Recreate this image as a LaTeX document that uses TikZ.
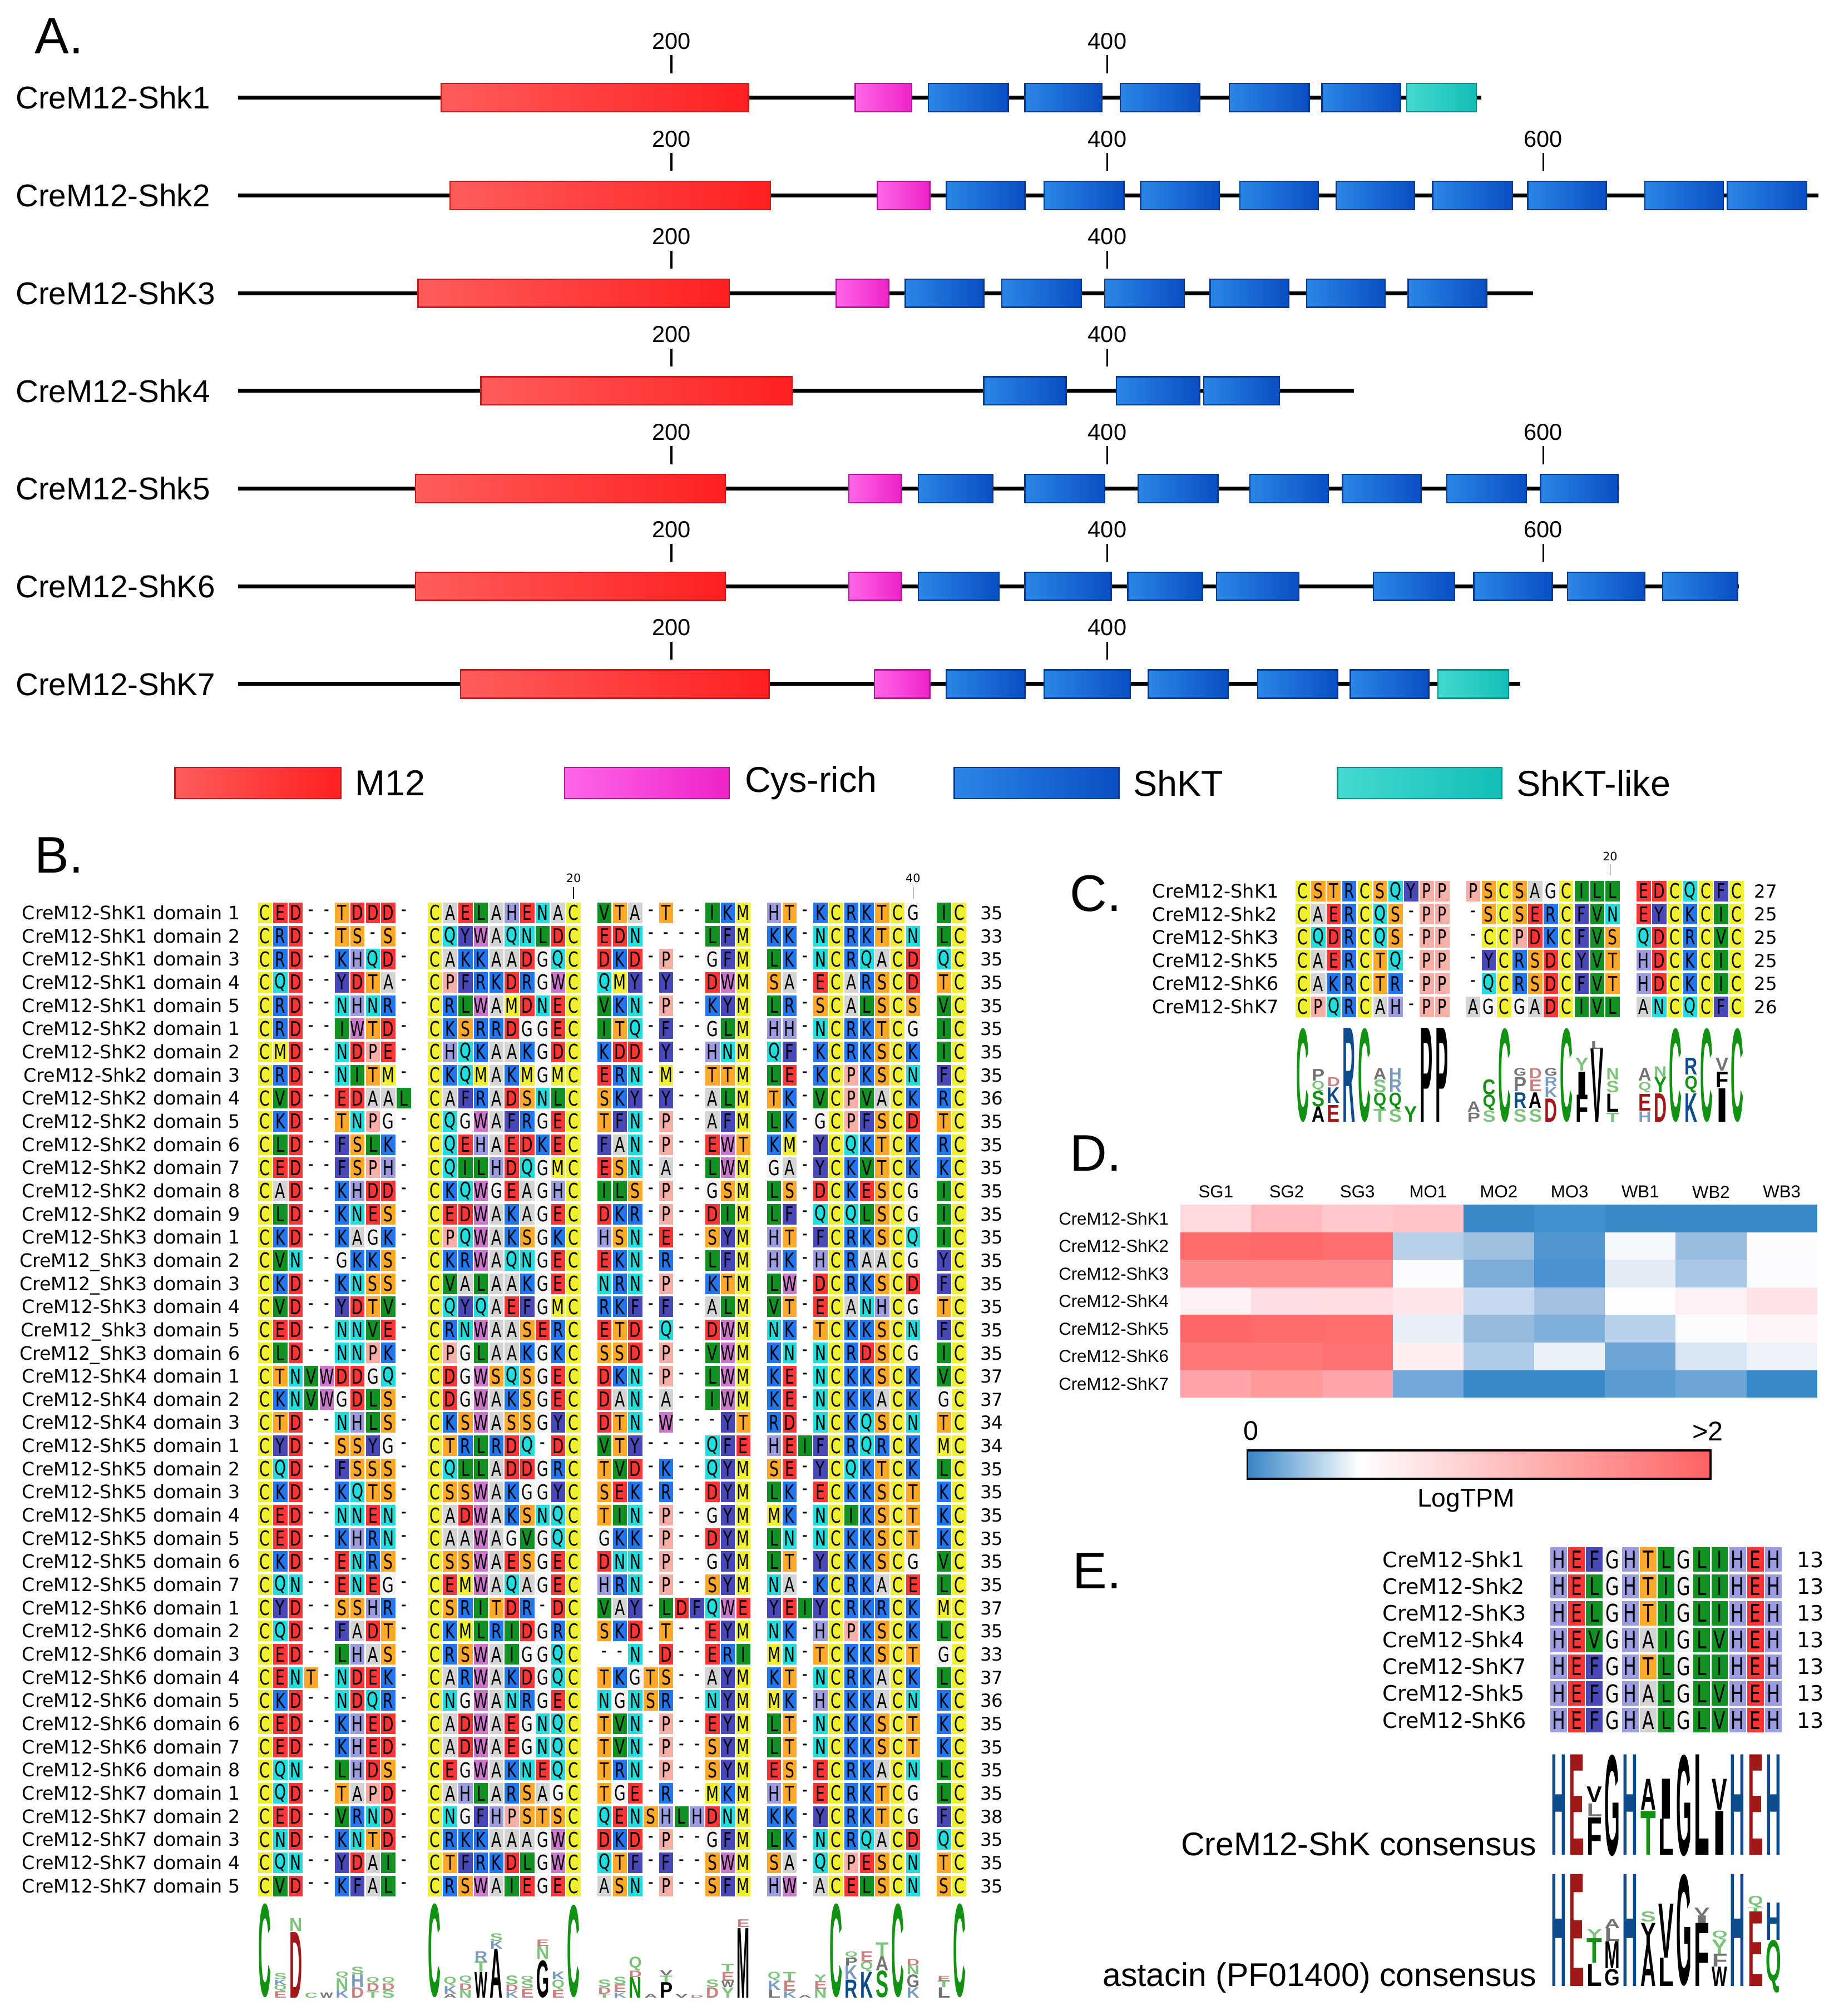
\documentclass[tikz,border=0pt]{standalone}
\usepackage{fontspec}
\usepackage{graphicx}
\setmainfont{DejaVu Sans}
\newfontfamily\arialfont{Liberation Sans}
\newfontfamily\resfont[FakeStretch=0.72]{DejaVu Sans}
\newfontfamily\logofont{Liberation Sans}

\definecolor{resC}{HTML}{F0F030}\colorlet{resM}{resC}
\definecolor{resD}{HTML}{FF3535}\colorlet{resE}{resD}
\definecolor{resK}{HTML}{2277EE}\colorlet{resR}{resK}
\definecolor{resN}{HTML}{22DDDD}\colorlet{resQ}{resN}
\definecolor{resS}{HTML}{FFA82A}\colorlet{resT}{resS}
\definecolor{resA}{HTML}{D4D4D4}
\definecolor{resG}{HTML}{F3F3F3}
\definecolor{resH}{HTML}{9C9CE0}
\definecolor{resF}{HTML}{4848B8}\colorlet{resY}{resF}
\definecolor{resW}{HTML}{CC77CC}
\definecolor{resI}{HTML}{129222}\colorlet{resL}{resI}\colorlet{resV}{resI}
\definecolor{resP}{HTML}{F6AEA6}

\definecolor{m12L}{HTML}{FF5C5C}\definecolor{m12R}{HTML}{FF2020}\definecolor{m12E}{HTML}{C81A1A}
\definecolor{cysL}{HTML}{FF66E8}\definecolor{cysR}{HTML}{EE22C8}\definecolor{cysE}{HTML}{B0189A}
\definecolor{shktL}{HTML}{2A86E6}\definecolor{shktR}{HTML}{0A4EC4}\definecolor{shktE}{HTML}{0A3A8E}
\definecolor{likeL}{HTML}{44DAD2}\definecolor{likeR}{HTML}{12BEB6}\definecolor{likeE}{HTML}{0C8E86}
\definecolor{lgG}{HTML}{129212}\definecolor{lgR}{HTML}{A01818}
\definecolor{lgB}{HTML}{0E4C8E}\definecolor{lgK}{HTML}{000000}
\definecolor{hmblue}{HTML}{3585C6}\definecolor{hmred}{HTML}{FF6262}

\tikzset{
  backbone/.style={line width=3pt},
  dombox/.style={line width=1pt},
  m12/.style={dombox, draw=m12E, left color=m12L, right color=m12R},
  cys/.style={dombox, draw=cysE, left color=cysL, right color=cysR},
  shkt/.style={dombox, draw=shktE, left color=shktL, right color=shktR},
  shktlike/.style={dombox, draw=likeE, left color=likeL, right color=likeR},
  panel/.style={font=\arialfont\fontsize{40}{40}\selectfont, anchor=west, inner sep=0pt},
  protname/.style={font=\arialfont\fontsize{24.5}{26}\selectfont, anchor=west, inner sep=0pt},
  ticklbl/.style={font=\arialfont\fontsize{18}{18}\selectfont, inner sep=0pt},
  legtxt/.style={font=\arialfont\fontsize{28}{28}\selectfont, anchor=west, inner sep=0pt},
  seqname/.style={font=\fontsize{14.4}{15}\selectfont, anchor=base east, inner sep=0pt},
  cname/.style={font=\fontsize{14.5}{15}\selectfont, anchor=base west, inner sep=0pt},
  ename/.style={font=\fontsize{16.5}{17}\selectfont, anchor=base west, inner sep=0pt},
  seqtxt/.style={font=\seqfont, inner sep=0pt},
  seqlen/.style={font=\fontsize{14}{14}\selectfont, anchor=base west, inner sep=0pt},
  rulerlbl/.style={font=\fontsize{9}{9}\selectfont, inner sep=0pt},
  hmlbl/.style={font=\arialfont\fontsize{13.5}{14}\selectfont, inner sep=0pt},
  cbarlbl/.style={font=\arialfont\fontsize{21}{21}\selectfont, inner sep=0pt},
  conslbl/.style={font=\arialfont\fontsize{25.5}{26}\selectfont, anchor=base east, inner sep=0pt},
  logoltr/.style={inner sep=0pt, anchor=south},
}

\newcommand\seqfont{\resfont\fontsize{16}{16}\selectfont}
\makeatletter
\newcount\seqcol
\def\seqpitch{12}\def\seqblock{10}\def\seqhh{8}\def\seqtag{s}
\newcommand\seqrow[3]{%
  \global\seqcol=0\relax
  \def\seq@x{#1}\def\seq@y{#2}%
  \edef\seq@str{#3}%
  \expandafter\seq@next\seq@str\relax}
\def\seq@next#1{%
  \ifx#1\relax\else
    \seq@cell#1%
    \global\advance\seqcol by 1\relax
    \expandafter\seq@next
  \fi}
\def\seq@cell#1{%
  \pgfmathsetmacro\seq@cx{\seq@x+\seqpitch*(\the\seqcol+floor(\the\seqcol/\seqblock))}%
  \ifx#1-%
  \else
    \fill[res#1] (\seq@cx+0.5,\seq@y-\seqhh) rectangle (\seq@cx+\seqpitch-0.5,\seq@y+\seqhh);%
  \fi
  \node[seqtxt] (\seqtag-\the\seqcol) at (\seq@cx+\seqpitch/2,\seq@y) {#1};}
\makeatother
\newcommand\logoletter[5]{% x, bottom, height, width, colour+letter
  \pgfmathparse{#3<12?0.55:1}\let\lop\pgfmathresult
  \node[logoltr, text=lg#5, text opacity=\lop] at (#1,#2) {\resizebox*{#4}{#3pt}{\logofont\bfseries\lt}};}

\begin{document}
\begin{tikzpicture}[x=1pt,y=-1pt]
\useasboundingbox (0,0) rectangle (1430,1568);
\fill[white] (0,0) rectangle (1430,1568);

% A: domain architecture
\node[panel] (pA) at (27,28) {A.};
\foreach \id/\yy/\nm/\stop/\ticks in {a1/76/CreM12-Shk1/1152/{200,400}, a2/152/CreM12-Shk2/1414/{200,400,600},
  a3/228/CreM12-ShK3/1192/{200,400}, a4/304/CreM12-Shk4/1053/{200,400}, a5/380/CreM12-Shk5/1259/{200,400,600},
  a6/456/CreM12-ShK6/1352/{200,400,600}, a7/532/CreM12-ShK7/1182/{200,400}}{
  \node[protname] (\id) at (12,\yy) {\nm};
  \draw[backbone] (185,\yy) -- (\stop,\yy);
  \foreach \p in \ticks {
    \draw[line width=1.5pt] ({183+1.695*\p},\yy-33) -- ({183+1.695*\p},\yy-19);
    \node[ticklbl] (\id t\p) at ({183+1.695*\p},\yy-44) {\p};
  }
}
\draw[m12] (343,65) rectangle (582,87);
\draw[cys] (665,65) rectangle (709,87);
\foreach \a/\b in {722/784,797/857,871/933,956/1018,1028/1089} \draw[shkt] (\a,65) rectangle (\b,87);
\draw[shktlike] (1094,65) rectangle (1148,87);
\draw[m12] (350,141) rectangle (599,163);
\draw[cys] (682,141) rectangle (723,163);
\foreach \a/\b in {736/797,812/874,887/948,964/1025,1039/1100,1114/1176,1188/1249,1279/1340,1343/1405} \draw[shkt] (\a,141) rectangle (\b,163);
\draw[m12] (325,217) rectangle (567,239);
\draw[cys] (650,217) rectangle (691,239);
\foreach \a/\b in {704/765,779/841,859/921,941/1002,1016/1077,1095/1156} \draw[shkt] (\a,217) rectangle (\b,239);
\draw[m12] (374,293) rectangle (616,315);
\foreach \a/\b in {765/829,868/933,936/995} \draw[shkt] (\a,293) rectangle (\b,315);
\draw[m12] (323,369) rectangle (564,391);
\draw[cys] (660,369) rectangle (701,391);
\foreach \a/\b in {714/772,797/859,885/947,972/1033,1044/1105,1125/1187,1198/1258} \draw[shkt] (\a,369) rectangle (\b,391);
\draw[m12] (323,445) rectangle (564,467);
\draw[cys] (660,445) rectangle (701,467);
\foreach \a/\b in {714/777,797/864,877/935,946/1010,1068/1131,1146/1207,1219/1279,1293/1351} \draw[shkt] (\a,445) rectangle (\b,467);
\draw[m12] (358,521) rectangle (598,543);
\draw[cys] (680,521) rectangle (723,543);
\foreach \a/\b in {736/797,812/879,893/955,978/1040,1050/1111} \draw[shkt] (\a,521) rectangle (\b,543);
\draw[shktlike] (1118,521) rectangle (1173,543);

\draw[m12] (136,597) rectangle (265,621);
\node[legtxt] (lm12) at (276,609) {M12};
\draw[cys] (439,597) rectangle (567,621);
\node[legtxt] (lcys) at (579,609) {Cys-rich};
\draw[shkt] (742,597) rectangle (870,621);
\node[legtxt] (lshkt) at (881,609) {ShKT};
\draw[shktlike] (1040,597) rectangle (1168,621);
\node[legtxt] (llike) at (1179,609) {ShKT-like};

% B: ShKT domain alignment
\node[panel] (pB) at (27,665) {B.};
\node[rulerlbl] (b20) at (446,683) {20};
\draw[line width=0.8pt] (446,690) -- (446,699);
\node[rulerlbl] (b40) at (710,683) {40};
\draw[line width=0.8pt] (710,690) -- (710,699);
\foreach \nm/\sq/\len [count=\i] in {
 CreM12-ShK1 domain 1/CED--TDDD-CAELAHENACVTA-T--IKMHT-KCRKTCGIC/35,
 CreM12-ShK1 domain 2/CRD--TS-S-CQYWAQNLDCEDN----LFMKK-NCRKTCNLC/33,
 CreM12-ShK1 domain 3/CRD--KHQD-CAKKAADGQCDKD-P--GFMLK-NCRQACDQC/35,
 CreM12-ShK1 domain 4/CQD--YDTA-CPFRKDRGWCQMY-Y--DWMSA-ECARSCDTC/35,
 CreM12-ShK1 domain 5/CRD--NHNR-CRLWAMDNECVKN-P--KYMLR-SCALSCSVC/35,
 CreM12-ShK2 domain 1/CRD--IWTD-CKSRRDGGECITQ-F--GLMHH-NCRKTCGIC/35,
 CreM12-ShK2 domain 2/CMD--NDPE-CHQKAAKGDCKDD-Y--HNMQF-KCRKSCKIC/35,
 CreM12-Shk2 domain 3/CRD--NITM-CKQMAKMGMCERN-M--TTMLE-KCPKSCNFC/35,
 CreM12-ShK2 domain 4/CVD--EDAALCAFRADSNLCSKY-Y--ALMTK-VCPVACKRC/36,
 CreM12-ShK2 domain 5/CKD--TNPG-CQGWAFRGECTFN-P--AFMLK-GCPFSCDTC/35,
 CreM12-ShK2 domain 6/CLD--FSLK-CQEHAEDKECFAN-P--EWTKM-YCQKTCKRC/35,
 CreM12-ShK2 domain 7/CED--FSPH-CQILHDQGMCESN-A--LWMGA-YCKVTCKKC/35,
 CreM12-ShK2 domain 8/CAD--KHDD-CKQWGEAGHCILS-P--GSMLS-DCKESCGIC/35,
 CreM12-ShK2 domain 9/CLD--KNES-CEDWAKAGECDKR-P--DIMLF-QCQLSCGIC/35,
 CreM12-ShK3 domain 1/CKD--KAGK-CPQWAKSGKCHSN-E--SYMHT-FCRKSCQIC/35,
 CreM12\_ShK3 domain 2/CVN--GKKS-CKRWAQNGECEKN-R--LFMHK-HCRAACGYC/35,
 CreM12\_ShK3 domain 3/CKD--KNSS-CVALAAKGECNRN-P--KTMLW-DCRKSCDFC/35,
 CreM12-ShK3 domain 4/CVD--YDTV-CQYQAEFGMCRKF-F--ALMVT-ECANHCGTC/35,
 CreM12\_Shk3 domain 5/CED--NNVE-CRNWAASERCETD-Q--DWMNK-TCKKSCNFC/35,
 CreM12\_ShK3 domain 6/CLD--NNPK-CPGLAAKGKCSSD-P--VWMKN-NCRDSCGIC/35,
 CreM12-ShK4 domain 1/CTNVWDDGQ-CDGWSQSGECDKN-P--LWMKE-NCKKSCKVC/37,
 CreM12-ShK4 domain 2/CKNVWGDLS-CDGWAKSGECDAN-A--IWMKE-NCKKACKGC/37,
 CreM12-ShK4 domain 3/CTD--NHLS-CKSWASSGYCDTN-W---YTRD-NCKQSCNTC/34,
 CreM12-ShK5 domain 1/CYD--SSYG-CTRLRDQ-DCVTY----QFEHEIFCRQRCKMC/34,
 CreM12-ShK5 domain 2/CQD--FSSS-CQLLADDGRCTVD-K--QYMSE-YCQKTCKLC/35,
 CreM12-ShK5 domain 3/CKD--KQTS-CSSWAKGGYCSEK-R--DYMLK-ECKKSCTKC/35,
 CreM12-ShK5 domain 4/CED--NNEN-CADWAKSNQCTIN-P--GYMMK-NCIKSCTKC/35,
 CreM12-ShK5 domain 5/CED--KHRN-CAAWAGVGQCGKK-P--DYMLN-NCKKSCTKC/35,
 CreM12-ShK5 domain 6/CKD--ENRS-CSSWAESGECDNN-P--GYMLT-YCKKSCGVC/35,
 CreM12-ShK5 domain 7/CQN--ENEG-CEMWAQAGECHRN-P--SYMNA-KCRKACELC/35,
 CreM12-ShK6 domain 1/CYD--SSHR-CSRITDR-DCVAY-LDFQWEYEIYCRKRCKMC/37,
 CreM12-ShK6 domain 2/CQD--FADT-CKMLRIDGRCSKD-T--EYMNK-HCPKSCKLC/35,
 CreM12-ShK6 domain 3/CED--LHAS-CRSWAIGGQC--N-D--ERIMN-TCKKSCTGC/33,
 CreM12-ShK6 domain 4/CENT-NDEK-CARWAKDGQCTKGTS--AYMKT-NCRKACKLC/37,
 CreM12-ShK6 domain 5/CKD--NDQR-CNGWANRGECNGNSR--NYMMK-HCKKACNKC/36,
 CreM12-ShK6 domain 6/CED--KHED-CADWAEGNQCTVN-P--EYMLT-NCKKSCTKC/35,
 CreM12-ShK6 domain 7/CED--KHED-CADWAEGNQCTVN-P--SYMLT-NCKKSCTKC/35,
 CreM12-ShK6 domain 8/CQN--LHDS-CEGWAKNEQCTRN-P--SYMES-ECRKACNLC/35,
 CreM12-ShK7 domain 1/CQD--TAPD-CAHLARSAGCTGE-R--MKMHT-ECRKTCGLC/35,
 CreM12-ShK7 domain 2/CED--VRND-CNGFHPSTSCQENSHLHDNMKK-YCRKTCGFC/38,
 CreM12-ShK7 domain 3/CND--KNTD-CRKKAAAGWCDKD-P--GFMLK-NCRQACDQC/35,
 CreM12-ShK7 domain 4/CQN--YDAI-CTFRKDLGWCQTF-F--SWMSA-QCPESCNTC/35,
 CreM12-ShK7 domain 5/CVD--KFAL-CRSWAIEGECASN-P--SFMHW-ACELSCNSC/35}{
  \pgfmathsetmacro\yy{710+18.02*(\i-1)}
  \node[seqname] (bn\i) at (187,\yy+5.2) {\nm};
  \def\seqtag{b\i}\seqrow{200}{\yy}{\sq}
  \node[seqlen] (bl\i) at (762,\yy+5.2) {\len};
}
\foreach \j/\yb/\yt/\lc/\lt in {
 1/1554/1481/G/C, 2/1554/1549/R/E, 2/1549/1544/G/Q, 2/1544/1540/B/K, 2/1540/1535/G/S,
 3/1554/1503/R/D, 3/1502/1492/G/N, 4/1554/1550/G/C, 5/1554/1550/K/W,
 6/1554/1548/B/K, 6/1548/1539/G/N, 6/1539/1534/G/Q,
 7/1554/1546/R/D, 7/1546/1536/B/H, 7/1536/1530/G/S,
 8/1554/1549/G/T, 8/1549/1543/R/D, 8/1543/1538/G/Q,
 9/1554/1548/G/S, 9/1548/1543/R/D, 9/1543/1538/G/Q,
 11/1554/1481/G/C, 12/1554/1551/K/A, 12/1551/1545/B/K, 12/1545/1538/G/Q,
 13/1554/1548/G/N, 13/1548/1543/R/D, 13/1543/1537/G/Q,
 14/1554/1534/K/W, 14/1534/1526/G/T, 14/1526/1518/B/R,
 15/1554/1516/K/A, 15/1516/1510/B/K, 15/1510/1504/G/S,
 16/1554/1549/B/K, 16/1549/1544/R/D, 16/1544/1537/G/S,
 17/1554/1547/R/E, 17/1547/1541/G/S, 17/1541/1537/G/Q,
 18/1554/1525/K/G, 18/1524/1514/G/N, 18/1514/1509/R/E,
 19/1554/1548/R/E, 19/1548/1540/G/Q, 19/1540/1534/B/K,
 20/1554/1482/G/C,
 21/1554/1551/G/T, 21/1551/1546/R/D, 21/1546/1540/G/S,
 22/1554/1550/B/K, 22/1550/1544/R/E, 22/1544/1538/G/S,
 23/1554/1538/G/N, 23/1538/1533/R/D, 23/1533/1522/G/Q,
 24/1554/1551/K/A, 25/1554/1542/K/P, 25/1542/1537/G/T, 25/1537/1533/K/V,
 26/1554/1551/K/V, 27/1554/1552/R/D,
 28/1554/1546/R/D, 28/1546/1540/G/S,
 29/1554/1546/G/Y, 29/1546/1541/K/W, 29/1541/1534/R/E, 29/1534/1528/G/T,
 30/1554/1500/K/M, 30/1499/1493/R/E,
 31/1554/1548/K/L, 31/1548/1541/B/K, 31/1541/1534/G/Q,
 32/1554/1549/B/K, 32/1549/1541/R/E, 32/1541/1534/G/T,
 33/1554/1552/K/A, 34/1554/1547/G/N, 34/1547/1541/R/E, 34/1541/1536/G/Y,
 35/1554/1481/G/C,
 36/1554/1540/B/R, 36/1540/1529/B/K, 36/1529/1523/K/P, 36/1523/1518/G/Q,
 37/1554/1534/B/K, 37/1534/1526/G/Q, 37/1526/1518/R/E,
 38/1554/1533/G/S, 38/1533/1522/K/A, 38/1522/1511/G/T,
 39/1554/1481/G/C,
 40/1554/1546/B/K, 40/1546/1536/K/G, 40/1536/1529/G/N, 40/1529/1524/R/D,
 41/1554/1546/K/L, 41/1546/1541/G/T, 41/1541/1537/R/E,
 42/1554/1481/G/C}{
  \pgfmathsetmacro\lx{206+132*floor((\j-1)/10)+12*mod(\j-1,10)}
  \pgfmathsetmacro\lh{\yb-\yt}
  \logoletter{\lx}{\yb}{\lh}{10pt}{\lc}
}

% C: alignment
\node[panel] (pC) at (832,695) {C.};
\node[rulerlbl] (c20) at (1252,666) {20};
\draw[line width=0.8pt] (1252,672) -- (1252,681);
\def\seqpitch{12.05}
\foreach \nm/\sq/\len [count=\i] in {CreM12-ShK1/CSTRCSQYPPPSCSAGCILLEDCQCFC/27,
 CreM12-Shk2/CAERCQS-PP-SCSERCFVNEYCKCIC/25, CreM12-ShK3/CQDRCQS-PP-CCPDKCFVSQDCRCVC/25,
 CreM12-ShK5/CAERCTQ-PP-YCRSDCYVTHDCKCIC/25, CreM12-ShK6/CAKRCTR-PP-QCRSDCFVTHDCKCIC/25,
 CreM12-ShK7/CPQRCAH-PPAGCGADCIVLANCQCFC/26}{
  \pgfmathsetmacro\yy{693+18*(\i-1)}
  \node[cname] (cn\i) at (896,\yy+5.3) {\nm};
  \def\seqtag{c\i}\seqrow{1007}{\yy}{\sq}
  \node[seqlen] (cl\i) at (1364,\yy+5.2) {\len};
}
\foreach \j/\yb/\yt/\lc/\lt in {
 1/873/800/G/C, 2/873/861/K/A, 2/861/849/G/S, 2/849/841/G/Q, 2/841/832/K/P,
 3/873/860/R/E, 3/858/846/B/K, 3/845/838/R/D, 4/873/800/B/R, 5/873/800/G/C,
 6/873/863/G/T, 6/863/850/G/Q, 6/850/840/G/S, 6/840/831/K/A,
 7/873/863/G/S, 7/863/850/G/Q, 7/850/840/B/R, 7/840/831/B/H,
 8/873/861/G/Y, 9/873/800/K/P, 10/873/800/K/P,
 11/873/866/K/P, 11/865/857/K/A,
 12/873/864/G/S, 12/864/852/G/Q, 12/852/840/G/C, 13/873/800/G/C,
 14/873/863/G/S, 14/862/850/B/R, 14/849/838/K/P, 14/837/831/K/G,
 15/873/863/G/S, 15/862/850/K/A, 15/849/840/R/E, 15/839/831/R/D,
 16/873/855/R/D, 16/854/846/B/K, 16/845/838/B/R, 16/837/831/K/G,
 17/873/800/G/C, 18/873/852/K/F, 18/852/834/K/I, 18/833/823/G/Y,
 19/873/816/K/V, 19/816/810/K/L,
 20/873/866/G/T, 20/865/851/K/L, 20/850/841/G/S, 20/840/831/G/N,
 21/873/865/B/H, 21/864/851/R/E, 21/850/842/G/Q, 21/841/831/K/A,
 22/873/851/R/D, 22/850/838/G/Y, 22/838/830/G/N, 23/873/800/G/C,
 24/873/851/B/K, 24/850/837/G/Q, 24/836/823/B/R, 25/873/800/G/C,
 26/873/847/K/I, 26/846/834/K/F, 26/833/823/K/V, 27/873/800/G/C}{
  \pgfmathsetmacro\lx{1013+133*floor((\j-1)/10)+12*mod(\j-1,10)}
  \pgfmathsetmacro\lh{\yb-\yt}
  \logoletter{\lx}{\yb}{\lh}{10pt}{\lc}
}

% D: expression heat map
\node[panel] (pD) at (832,897) {D.};
\foreach \s [count=\k] in {SG1,SG2,SG3,MO1,MO2,MO3,WB1,WB2,WB3}
  \node[hmlbl] (hc\k) at ({945.5+55*(\k-1)},927) {\s};
\foreach \cl [count=\r] in {{FFD9DE,FFB9BF,FFC8CC,FFC2C7,3A89C9,4290CD,3A89C9,3A89C9,3A89C9},
 {FF6B6B,FF6868,FF6E6E,B8CFEA,9DBFE0,5195D0,F5F8FC,98BDE0,FAFBFD},
 {FF8C8C,FF8B8B,FF8C8C,FAFBFE,7EADD9,4A92CF,E2EBF6,A8C6E5,FAFBFE},
 {FFF1F3,FFDDE2,FFDCDF,FFE6EA,C5D8EE,A2C1E2,FCFDFF,FFF1F3,FFE3E6},
 {FF6666,FF6B6B,FF6D6D,E9EFF8,96BBDF,80AFDA,B9D0EA,FBFCFE,FFF5F7},
 {FF7777,FF7777,FF7070,FFEEF0,AECAE7,EAF0F8,6CA5D6,D8E5F3,EEF3F9},
 {FFA3A8,FF9999,FFA5AA,72A7D7,3A89C9,3A89C9,5A9BD2,6CA5D6,3A89C9}}{
  \foreach \c [count=\k] in \cl {
    \edef\tmp{\noexpand\definecolor{hcell}{HTML}{\c}}\tmp
    \fill[hcell] ({918+55*(\k-1)},{937+21.43*(\r-1)}) rectangle ++(55,21.43);
  }
  \node[hmlbl, anchor=east] (hr\r) at (909,{947.7+21.43*(\r-1)}) {CreM12-ShK\r};
}
\shade[left color=hmblue, right color=white] (970,1128) rectangle (1057,1150);
\shade[left color=white, right color=hmred] (1057,1128) rectangle (1330,1150);
\draw[line width=1.6pt] (970,1128) rectangle (1330,1150);
\node[cbarlbl] (cb0) at (973,1113) {0};
\node[cbarlbl] (cb2) at (1328,1113) {>2};
\node[cbarlbl, font=\arialfont\fontsize{20}{20}\selectfont] (cbl) at (1140,1167) {LogTPM};

% E: zinc binding motif
\node[panel] (pE) at (834,1222) {E.};
\def\seqpitch{13.92}\def\seqblock{100}\def\seqhh{9.5}
\renewcommand\seqfont{\resfont\fontsize{19}{19}\selectfont}
\foreach \nm/\sq [count=\i] in {CreM12-Shk1/HEFGHTLGLIHEH, CreM12-Shk2/HELGHTIGLIHEH,
 CreM12-ShK3/HELGHTIGLIHEH, CreM12-Shk4/HEVGHAIGLVHEH, CreM12-ShK7/HEFGHTLGLIHEH,
 CreM12-Shk5/HEFGHALGLVHEH, CreM12-ShK6/HEFGHALGLVHEH}{
  \pgfmathsetmacro\yy{1213+20.83*(\i-1)}
  \node[ename] (en\i) at (1075,\yy+6) {\nm};
  \def\seqtag{e\i}\seqrow{1205}{\yy}{\sq}
  \node[ename] (el\i) at (1397,\yy+6) {13};
}
\node[conslbl] (cons1) at (1195,1443) {CreM12-ShK consensus};
\node[conslbl] (cons2) at (1195,1545) {astacin (PF01400) consensus};
\foreach \j/\yb/\yt/\lc/\lt in {
 1/1443/1365/B/H, 2/1443/1365/R/E, 3/1443/1414/K/F, 3/1413/1403/K/L, 3/1402/1390/K/V,
 4/1444/1365/K/G, 5/1443/1365/B/H, 6/1443/1409/G/T, 6/1408/1384/K/A,
 7/1443/1415/K/L, 7/1415/1384/K/I, 8/1444/1365/K/G, 9/1443/1365/K/L,
 10/1443/1409/K/I, 10/1408/1384/K/V, 11/1443/1365/B/H, 12/1443/1365/R/E, 13/1443/1365/B/H,
 1/1545/1458/B/H, 2/1545/1458/R/E, 3/1545/1528/K/L, 3/1527/1508/G/T, 3/1508/1501/G/Y,
 4/1545/1532/K/G, 4/1531/1510/K/M, 4/1510/1500/K/L, 4/1500/1493/K/A,
 5/1545/1458/B/H, 6/1545/1513/K/A, 6/1513/1496/K/Y, 6/1495/1487/G/S,
 7/1545/1523/K/L, 7/1523/1481/K/V, 8/1545/1458/K/G,
 9/1545/1496/K/F, 9/1496/1490/K/I, 9/1490/1484/K/V,
 10/1545/1530/K/W, 10/1530/1520/K/F, 10/1520/1509/G/Y, 10/1509/1502/G/Q,
 11/1545/1458/B/H, 12/1545/1487/R/E, 12/1487/1484/G/T, 12/1484/1475/G/Q,
 13/1550/1509/G/Q, 13/1509/1480/B/H}{
  \pgfmathsetmacro\lx{1212+13.92*(\j-1)}
  \pgfmathsetmacro\lh{\yb-\yt}
  \logoletter{\lx}{\yb}{\lh}{12pt}{\lc}
}
\end{tikzpicture}
\end{document}
